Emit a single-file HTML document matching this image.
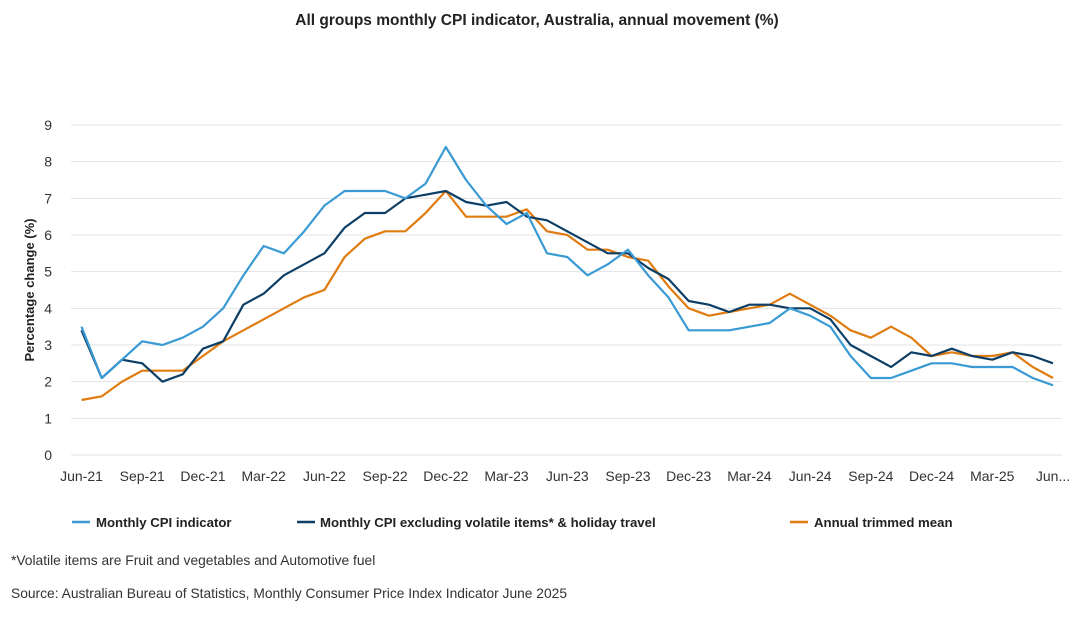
<!DOCTYPE html>
<html><head><meta charset="utf-8"><style>
body{margin:0;background:#fff;font-family:"Liberation Sans",Arial,sans-serif;}
svg text{font-family:"Liberation Sans",Arial,sans-serif;}
</style></head><body>
<svg id="chart" width="1075" height="619" viewBox="0 0 1075 619" xmlns="http://www.w3.org/2000/svg">
<text x="537" y="25" text-anchor="middle" font-size="15.5" font-weight="bold" fill="#222">All groups monthly CPI indicator, Australia, annual movement (%)</text>
<text transform="translate(34,290) rotate(-90)" text-anchor="middle" font-size="13" font-weight="bold" fill="#222">Percentage change (%)</text>
<g id="grid"></g><g id="yt"></g><g id="xt"></g><g id="lines"></g>
<g>
<g><line x1="72" y1="522" x2="90" y2="522" stroke="#3a9ad4" stroke-width="2.5"/><text x="96" y="527" font-size="13.2" font-weight="bold" fill="#222">Monthly CPI indicator</text></g>
<g><line x1="297" y1="522" x2="315" y2="522" stroke="#0d3f66" stroke-width="2.5"/><text x="320" y="527" font-size="13.2" font-weight="bold" fill="#222">Monthly CPI excluding volatile items* &amp; holiday travel</text></g>
<g><line x1="790" y1="522" x2="808" y2="522" stroke="#e07b10" stroke-width="2.5"/><text x="814" y="527" font-size="13.2" font-weight="bold" fill="#222">Annual trimmed mean</text></g>
</g>
<text x="11" y="565" font-size="13.8" fill="#333">*Volatile items are Fruit and vegetables and Automotive fuel</text>
<text x="11" y="598" font-size="13.8" fill="#333">Source: Australian Bureau of Statistics, Monthly Consumer Price Index Indicator June 2025</text>
</svg>
<script>
const months=["Jun-21","Jul-21","Aug-21","Sep-21","Oct-21","Nov-21","Dec-21","Jan-22","Feb-22","Mar-22","Apr-22","May-22","Jun-22","Jul-22","Aug-22","Sep-22","Oct-22","Nov-22","Dec-22","Jan-23","Feb-23","Mar-23","Apr-23","May-23","Jun-23","Jul-23","Aug-23","Sep-23","Oct-23","Nov-23","Dec-23","Jan-24","Feb-24","Mar-24","Apr-24","May-24","Jun-24","Jul-24","Aug-24","Sep-24","Oct-24","Nov-24","Dec-24","Jan-25","Feb-25","Mar-25","Apr-25","May-25","Jun-25"];
const cpi=[3.5,2.1,2.6,3.1,3.0,3.2,3.5,4.0,4.9,5.7,5.5,6.1,6.8,7.2,7.2,7.2,7.0,7.4,8.4,7.5,6.8,6.3,6.6,5.5,5.4,4.9,5.2,5.6,4.9,4.3,3.4,3.4,3.4,3.5,3.6,4.0,3.8,3.5,2.7,2.1,2.1,2.3,2.5,2.5,2.4,2.4,2.4,2.1,1.9];
const cpiExVol=[3.4,2.1,2.6,2.5,2.0,2.2,2.9,3.1,4.1,4.4,4.9,5.2,5.5,6.2,6.6,6.6,7.0,7.1,7.2,6.9,6.8,6.9,6.5,6.4,6.1,5.8,5.5,5.5,5.1,4.8,4.2,4.1,3.9,4.1,4.1,4.0,4.0,3.7,3.0,2.7,2.4,2.8,2.7,2.9,2.7,2.6,2.8,2.7,2.5];
const trimmed=[1.5,1.6,2.0,2.3,2.3,2.3,2.7,3.1,3.4,3.7,4.0,4.3,4.5,5.4,5.9,6.1,6.1,6.6,7.2,6.5,6.5,6.5,6.7,6.1,6.0,5.6,5.6,5.4,5.3,4.6,4.0,3.8,3.9,4.0,4.1,4.4,4.1,3.8,3.4,3.2,3.5,3.2,2.7,2.8,2.7,2.7,2.8,2.4,2.1];
const yTicks=[0,1,2,3,4,5,6,7,8,9];
const xTickLabels=["Jun-21","Sep-21","Dec-21","Mar-22","Jun-22","Sep-22","Dec-22","Mar-23","Jun-23","Sep-23","Dec-23","Mar-24","Jun-24","Sep-24","Dec-24","Mar-25","Jun..."];
const NS="http://www.w3.org/2000/svg";
function xs(i){return 81.5+i*(1053-81.5)/48;}
function ys(v){return 455-v*(330/9);}
function mk(t,a,p){const e=document.createElementNS(NS,t);for(const k in a)e.setAttribute(k,a[k]);p.appendChild(e);return e;}
const grid=document.getElementById('grid'),yt=document.getElementById('yt'),xt=document.getElementById('xt'),lines=document.getElementById('lines');
yTicks.forEach(v=>{
 const l=mk('line',{x1:71,x2:1062,y1:ys(v),y2:ys(v),stroke:'#e3e3e3','stroke-width':1},grid);
 
 
 const t=mk('text',{x:52,y:ys(v)+5,'text-anchor':'end','font-size':14,fill:'#333'},yt);
 t.textContent=v;
 
 
});
xTickLabels.forEach((s,k)=>{
 const t=mk('text',{x:xs(k*3),y:481,'text-anchor':'middle','font-size':14,fill:'#333'},xt);
 t.textContent=s;
 
 
});
function draw(arr,color,name){
 const p=mk('polyline',{points:arr.map((v,i)=>xs(i)+','+ys(v)).join(' '),fill:'none',stroke:color,'stroke-width':2.2,'stroke-linejoin':'round'},lines);
 
 
}
draw(trimmed,'#e07b10','trimmed-mean-line');
draw(cpiExVol,'#0d3f66','cpi-excluding-volatile-line');
draw(cpi,'#3a9ad4','monthly-cpi-line');
</script>
</body></html>
